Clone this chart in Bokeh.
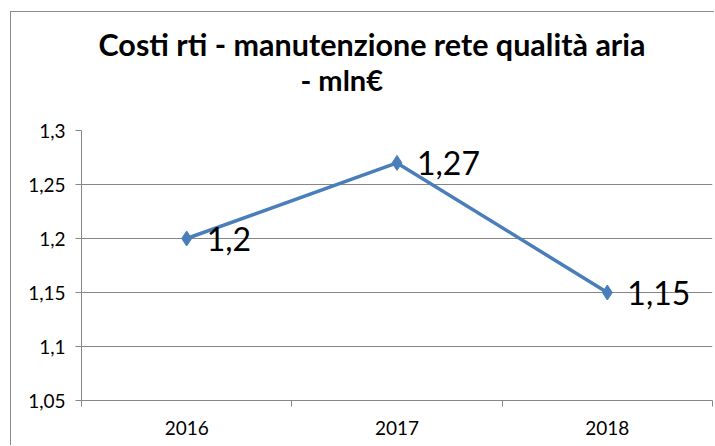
from bokeh.plotting import figure
from bokeh.models import FixedTicker, CustomJSTickFormatter, Range1d, ColumnDataSource, Title
from bokeh.core.properties import value
from bokeh.embed import file_html
from bokeh.resources import INLINE

# ---- data ----
years = ["2016", "2017", "2018"]
costs = [1.2, 1.27, 1.15]
y_ticks = [1.05, 1.1, 1.15, 1.2, 1.25, 1.3]
title_lines = ["Costi rti -  manutenzione  rete qualità aria", "- mln€"]

FONT = "Lato"
GRAY = "#868686"
BLUE = "#4A7EBB"

W, H = 704, 434
p = figure(width=W, height=H, output_backend="svg", toolbar_location=None,
           x_range=Range1d(0, len(years)), y_range=Range1d(y_ticks[0], y_ticks[-1]),
           min_border_left=70, min_border_right=3, min_border_top=118, min_border_bottom=46,
           title=None)
p.styles = {"margin-left": "10px", "margin-top": "11px",
            "border-left": "1px solid #8c8c8c", "border-top": "1px solid #8c8c8c"}
p.outline_line_color = None
p.background_fill_color = "white"
p.border_fill_color = "white"

xs = [i + 0.5 for i in range(len(years))]
labels = [str(v).replace(".", ",") for v in costs]
src = ColumnDataSource(dict(x=xs, y=costs, lab=labels))

p.line("x", "y", source=src, line_color=BLUE, line_width=3.5)
p.scatter("x", "y", source=src, marker="diamond", size=15, fill_color=BLUE, line_color=BLUE)
p.text("x", "y", text="lab", source=src, x_offset=20, y_offset=0,
       text_baseline="middle", text_align="left", text_font=value(FONT),
       text_font_size="32px", text_color="black")

# x axis
xa = p.xaxis[0]
xa.ticker = FixedTicker(ticks=xs, minor_ticks=list(range(len(years) + 1)))
xa.formatter = CustomJSTickFormatter(args=dict(labels=years), code="return labels[Math.floor(tick)]")
xa.axis_line_color = GRAY
xa.major_tick_out = 0
xa.major_tick_in = 0
xa.minor_tick_out = 6
xa.minor_tick_in = 0
xa.minor_tick_line_color = GRAY
xa.major_label_standoff = 14
xa.major_label_text_font = FONT
xa.major_label_text_font_size = "19px"
xa.major_label_text_color = "black"
p.xgrid.visible = False

# y axis
ya = p.yaxis[0]
ya.ticker = FixedTicker(ticks=y_ticks, minor_ticks=[])
ya.formatter = CustomJSTickFormatter(code="return String(Math.round(tick*100)/100).replace('.', ',')")
ya.axis_line_color = GRAY
ya.major_tick_out = 6
ya.major_tick_in = 0
ya.major_tick_line_color = GRAY
ya.major_label_standoff = 10
ya.major_label_text_font = FONT
ya.major_label_text_font_size = "19px"
ya.major_label_text_color = "black"
p.ygrid.ticker = FixedTicker(ticks=y_ticks)
p.ygrid.grid_line_color = GRAY

# title (two lines, second line closest to the plot is added first)
p.add_layout(Title(text=title_lines[1], align="left", offset=219, standoff=67,
                   text_font=FONT, text_font_style="bold", text_font_size="29px",
                   text_color="black"), "above")
p.add_layout(Title(text=title_lines[0], align="left", offset=17, standoff=-71,
                   text_font=FONT, text_font_style="bold", text_font_size="30.5px",
                   text_color="black"), "above")

open("out.html", "w").write(file_html(p, INLINE))
